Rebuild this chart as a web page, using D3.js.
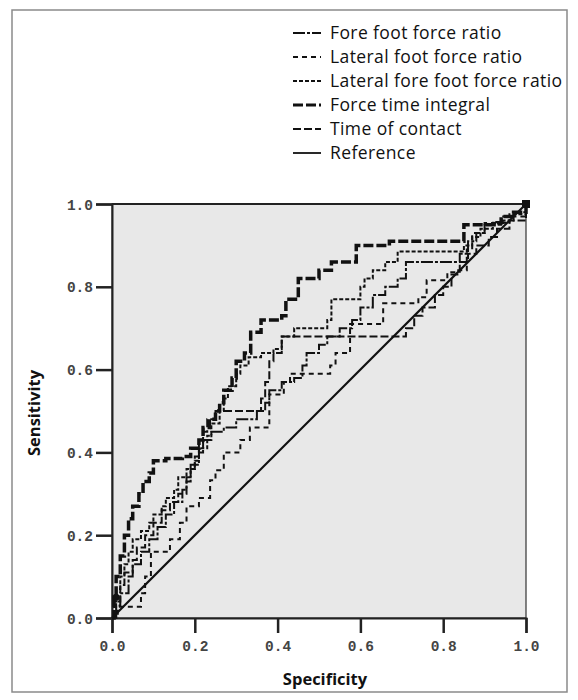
<!DOCTYPE html>
<html lang="en">
<head>
  <meta charset="UTF-8">
  <title>ROC curves</title>
  <style>
    body { margin: 0; background: #fff; }
    .tick text { font-family: "Liberation Mono", monospace; font-size: 14.5px; font-weight: bold; fill: #444; }
    .legend text { font-family: "Open Sans", sans-serif; font-size: 17.5px; letter-spacing: 0.4px; fill: #111; }
    .title { font-family: "Open Sans", sans-serif; font-size: 16.5px; font-weight: bold; fill: #111; }
  </style>
  <script src="https://d3js.org/d3.v7.min.js"></script>
</head>
<body>
<svg id="chart"></svg>
<script>

// 1 - specificity values / sensitivity values for each curve
const foreFootX  = [0, 0.01, 0.02, 0.04, 0.05, 0.07, 0.09, 0.11, 0.13, 0.15, 0.17, 0.18, 0.19, 0.21, 0.22, 0.24, 0.27, 0.30, 0.33, 0.35, 0.37, 0.38, 0.41, 0.44, 0.46, 0.47, 0.50, 0.52, 0.55, 0.58, 0.60, 0.63, 0.66, 0.69, 0.71, 0.78, 0.82, 0.84, 0.86, 0.88, 0.90, 0.94, 0.97, 1];
const foreFootY  = [0, 0.03, 0.06, 0.10, 0.13, 0.16, 0.19, 0.22, 0.25, 0.28, 0.31, 0.34, 0.37, 0.40, 0.43, 0.45, 0.46, 0.48, 0.48, 0.50, 0.52, 0.55, 0.57, 0.58, 0.61, 0.64, 0.66, 0.68, 0.70, 0.72, 0.75, 0.78, 0.80, 0.82, 0.86, 0.86, 0.86, 0.88, 0.91, 0.93, 0.95, 0.96, 0.98, 1];

const latFootX   = [0, 0.014, 0.07, 0.07, 0.08, 0.094, 0.094, 0.13, 0.14, 0.164, 0.18, 0.21, 0.237, 0.25, 0.27, 0.31, 0.333, 0.37, 0.38, 0.38, 0.415, 0.43, 0.495, 0.527, 0.54, 0.575, 0.63, 0.655, 0.74, 0.76, 0.81, 0.833, 0.857, 0.87, 0.90, 0.945, 1];
const latFootY   = [0, 0.027, 0.027, 0.06, 0.10, 0.133, 0.16, 0.16, 0.19, 0.23, 0.27, 0.29, 0.333, 0.357, 0.40, 0.43, 0.46, 0.46, 0.507, 0.54, 0.57, 0.59, 0.59, 0.61, 0.64, 0.71, 0.71, 0.76, 0.775, 0.816, 0.835, 0.84, 0.89, 0.93, 0.954, 0.97, 1];

const latForeX   = [0, 0.005, 0.01, 0.02, 0.03, 0.04, 0.05, 0.07, 0.09, 0.10, 0.12, 0.13, 0.15, 0.16, 0.18, 0.20, 0.21, 0.23, 0.24, 0.26, 0.27, 0.28, 0.30, 0.31, 0.33, 0.36, 0.39, 0.41, 0.44, 0.49, 0.52, 0.53, 0.58, 0.60, 0.61, 0.63, 0.66, 0.69, 0.76, 0.84, 0.85, 0.87, 0.89, 0.92, 0.96, 1];
const latForeY   = [0, 0.04, 0.07, 0.10, 0.13, 0.16, 0.19, 0.21, 0.23, 0.25, 0.27, 0.29, 0.31, 0.34, 0.36, 0.38, 0.41, 0.44, 0.47, 0.50, 0.53, 0.56, 0.59, 0.61, 0.63, 0.64, 0.65, 0.68, 0.70, 0.70, 0.72, 0.77, 0.77, 0.80, 0.82, 0.84, 0.86, 0.885, 0.885, 0.885, 0.90, 0.92, 0.94, 0.955, 0.975, 1];

const ftiX       = [0, 0.005, 0.01, 0.02, 0.03, 0.04, 0.05, 0.065, 0.075, 0.09, 0.10, 0.13, 0.17, 0.19, 0.21, 0.22, 0.235, 0.25, 0.26, 0.27, 0.29, 0.30, 0.32, 0.335, 0.36, 0.41, 0.42, 0.45, 0.49, 0.50, 0.53, 0.57, 0.59, 0.67, 0.85, 0.85, 0.93, 0.94, 0.97, 1];
const ftiY       = [0, 0.05, 0.10, 0.15, 0.20, 0.24, 0.27, 0.30, 0.33, 0.35, 0.38, 0.385, 0.39, 0.41, 0.43, 0.46, 0.48, 0.50, 0.52, 0.55, 0.58, 0.62, 0.64, 0.69, 0.72, 0.73, 0.77, 0.82, 0.82, 0.84, 0.86, 0.86, 0.90, 0.91, 0.91, 0.95, 0.955, 0.97, 0.98, 1];

const contactX   = [0, 0.01, 0.02, 0.03, 0.05, 0.06, 0.08, 0.10, 0.12, 0.14, 0.16, 0.18, 0.19, 0.20, 0.21, 0.22, 0.23, 0.25, 0.35, 0.36, 0.37, 0.38, 0.39, 0.41, 0.70, 0.71, 0.73, 0.75, 0.78, 0.80, 0.82, 0.84, 0.86, 0.88, 0.91, 0.93, 0.96, 1];
const contactY   = [0, 0.04, 0.08, 0.11, 0.14, 0.17, 0.20, 0.23, 0.26, 0.28, 0.30, 0.33, 0.36, 0.39, 0.42, 0.45, 0.48, 0.50, 0.50, 0.53, 0.57, 0.62, 0.64, 0.68, 0.68, 0.70, 0.73, 0.75, 0.78, 0.80, 0.83, 0.86, 0.88, 0.90, 0.92, 0.94, 0.96, 1];

const refX = [0, 1];
const refY = [0, 1];

const seriesNames = ['Fore foot force ratio', 'Lateral foot force ratio', 'Lateral fore foot force ratio',
                     'Force time integral', 'Time of contact', 'Reference'];
const tickValues = [0, 0.2, 0.4, 0.6, 0.8, 1.0];

// end points marked in the original
const markerX = [0.01, 1];
const markerY = [0.05, 1];
const markerShape = ['circle', 'square'];

const series = [
  {name: seriesNames[0], xs: foreFootX, ys: foreFootY, dash: '12,2,3,2', width: 2},
  {name: seriesNames[1], xs: latFootX,  ys: latFootY,  dash: '5,4',      width: 2},
  {name: seriesNames[2], xs: latForeX,  ys: latForeY,  dash: '4,2',      width: 2},
  {name: seriesNames[3], xs: ftiX,      ys: ftiY,      dash: '10,3',     width: 3.5},
  {name: seriesNames[4], xs: contactX,  ys: contactY,  dash: '8,3',      width: 2},
  {name: seriesNames[5], xs: refX,      ys: refY,      dash: null,       width: 2.2}
];

const size = {width: 578, height: 700};
const plot = {left: 112, right: 526, top: 204, bottom: 618};

const svg = d3.select('#chart')
              .attr('width', size.width)
              .attr('height', size.height);

// outer frame
svg.append('rect')
   .attr('x', 12).attr('y', 10)
   .attr('width', 555).attr('height', 682)
   .attr('fill', 'none')
   .attr('stroke', '#8a8a8a')
   .attr('stroke-width', 1.5);

const xScale = d3.scaleLinear().domain([0, 1]).range([plot.left, plot.right]);
const yScale = d3.scaleLinear().domain([0, 1]).range([plot.bottom, plot.top]);

svg.append('rect')
   .attr('x', xScale(0)).attr('y', yScale(1))
   .attr('width', xScale(1) - xScale(0))
   .attr('height', yScale(0) - yScale(1))
   .attr('fill', '#e8e8e8')
   .attr('stroke', '#333')
   .attr('stroke-width', 1.2);

// heavier top edge
svg.append('line')
   .attr('x1', xScale(0)).attr('x2', xScale(1))
   .attr('y1', yScale(1)).attr('y2', yScale(1))
   .attr('stroke', '#222').attr('stroke-width', 2);

const xAxis = d3.axisBottom(xScale).tickValues(tickValues).tickSize(15).tickPadding(8).tickFormat(d3.format('.1f'));
const yAxis = d3.axisLeft(yScale).tickValues(tickValues).tickSize(16).tickPadding(3).tickFormat(d3.format('.1f'));

const gx = svg.append('g')
   .attr('transform', 'translate(0,' + yScale(0) + ')')
   .call(xAxis);
const gy = svg.append('g')
   .attr('transform', 'translate(' + xScale(0) + ',0)')
   .call(yAxis);
[gx, gy].forEach(function(g) {
  g.select('.domain').attr('stroke', '#222').attr('stroke-width', 2);
  g.selectAll('.tick line').attr('stroke', '#222').attr('stroke-width', 2.5);
});
gy.selectAll('.tick text').attr('dy', '0.35em');

const line = d3.line()
               .x(function(d) { return xScale(d[0]); })
               .y(function(d) { return yScale(d[1]); })
               .curve(d3.curveStepAfter);

series.forEach(function(s) {
  const pts = s.xs.map(function(x, i) { return [x, s.ys[i]]; });
  svg.append('path')
     .datum(pts)
     .attr('fill', 'none')
     .attr('stroke', '#111')
     .attr('stroke-width', s.width)
     .attr('stroke-dasharray', s.dash)
     .attr('d', s.dash ? line : d3.line().x(function(d) { return xScale(d[0]); }).y(function(d) { return yScale(d[1]); }));
});

markerX.forEach(function(x, i) {
  if (markerShape[i] === 'circle') {
    svg.append('circle')
       .attr('cx', xScale(x)).attr('cy', yScale(markerY[i]))
       .attr('r', 3.5).attr('fill', '#111');
  } else {
    svg.append('rect')
       .attr('x', xScale(x) - 4).attr('y', yScale(markerY[i]) - 4)
       .attr('width', 8).attr('height', 8).attr('fill', '#111');
  }
});

// legend
const legend = svg.append('g').attr('class', 'legend');
series.forEach(function(s, i) {
  const y = 33 + i * 24;
  legend.append('line')
        .attr('x1', 293).attr('x2', 321)
        .attr('y1', y).attr('y2', y)
        .attr('stroke', '#111')
        .attr('stroke-width', s.width === 3.5 ? 3 : 1.8)
        .attr('stroke-dasharray', s.dash);
  legend.append('text')
        .attr('x', 330).attr('y', y)
        .attr('dy', '0.35em')
        .text(s.name);
});

svg.append('text')
   .attr('class', 'title')
   .attr('x', (xScale(0) + xScale(1)) / 2 + 6)
   .attr('y', 685)
   .attr('text-anchor', 'middle')
   .text('Specificity');

svg.append('text')
   .attr('class', 'title')
   .attr('transform', 'translate(40,' + (yScale(0.5) + 2) + ') rotate(-90)')
   .attr('text-anchor', 'middle')
   .text('Sensitivity');

</script>
</body>
</html>
